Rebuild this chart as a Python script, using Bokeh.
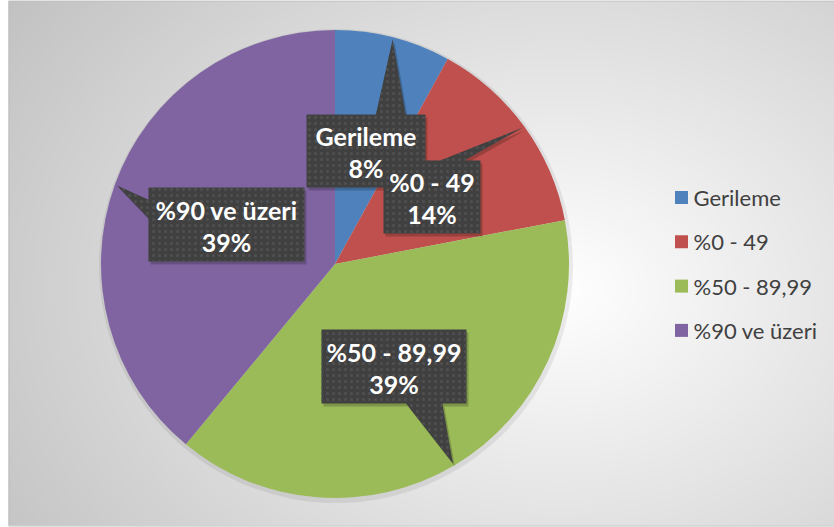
import numpy as np
from bokeh.plotting import figure
from bokeh.models import Range1d
from bokeh.embed import file_html
from bokeh.resources import INLINE
from bokeh.core.properties import value

# ---- data ----
categories = ["Gerileme", "%0 - 49", "%50 - 89,99", "%90 ve üzeri"]
values = [8, 14, 39, 39]
pct_labels = ["8%", "14%", "39%", "39%"]
colors = ["#4F81BD", "#C0504D", "#9BBB59", "#8064A2"]

# ---- layout (pixel space, y down) ----
W, H = 834, 527
cx, cy, R = 334.5, 263.5, 234.0
box_left = [306, 383, 321, 148]
box_top = [114, 160, 329, 187]
box_w = [119, 97, 145, 156]
box_h = [73, 73, 74, 74]
legend_x, legend_y0, legend_dy = 681, 197, 44.3


def Y(y):
    return H - y


p = figure(width=W, height=H, x_range=Range1d(0, W), y_range=Range1d(0, H),
           output_backend="svg", toolbar_location=None, min_border=0)
p.axis.visible = False
p.grid.visible = False
p.outline_line_color = None
p.background_fill_color = "white"
p.border_fill_color = "white"

# ---- gradient background ----
gx0, gy0, gw, gh = 8, 0, 826, 525
xs = np.arange(gw) + gx0 + 0.5
ys = np.arange(gh) + gy0 + 0.5
Xg, Yg = np.meshgrid(xs, ys)
d = np.sqrt(((Xg - 560) / 660) ** 2 + ((Yg - 290) / 500) ** 2)
g = np.clip(255 - 60 * d, 0, 255).astype(np.uint8)
img = np.empty((gh, gw), dtype=np.uint32)
view = img.view(dtype=np.uint8).reshape((gh, gw, 4))
view[..., 0] = g
view[..., 1] = g
view[..., 2] = g
view[..., 3] = 255
img = np.ascontiguousarray(img[::-1])
p.image_rgba(image=[img], x=gx0, y=Y(gy0 + gh), dw=gw, dh=gh)
p.quad(left=gx0 + 0.5, right=W + 2, top=Y(0.5), bottom=Y(gh + 0.5),
       fill_color=None, line_color="#bdbdbd", line_width=1)

# ---- pie ----
fr = np.array(values, dtype=float) / sum(values)
cum = np.concatenate([[0.0], np.cumsum(fr)])
start = np.pi / 2 - 2 * np.pi * cum[:-1]
end = np.pi / 2 - 2 * np.pi * cum[1:]
p.circle(x=[cx + 1], y=[Y(cy + 2)], radius=R + 3, fill_color="black",
         fill_alpha=0.07, line_color=None)
p.wedge(x=cx, y=Y(cy), radius=R, start_angle=start, end_angle=end,
        direction="clock", fill_color=colors, line_color=None)


# ---- callouts ----
def callout(l, t, w, h, tx, ty):
    hc, vc = l + w / 2, t + h / 2
    dx, dy = tx - hc, ty - vc
    r, b = l + w, t + h
    if abs(dx) * h > abs(dy) * w:
        y1 = t + h * (7 if dy > 0 else 2) / 12
        y2 = t + h * (10 if dy > 0 else 5) / 12
        if dx > 0:
            pts = [(l, t), (r, t), (r, y1), (tx, ty), (r, y2), (r, b), (l, b)]
        else:
            pts = [(l, t), (r, t), (r, b), (l, b), (l, y2), (tx, ty), (l, y1)]
    else:
        x1 = l + w * (7 if dx > 0 else 2) / 12
        x2 = l + w * (10 if dx > 0 else 5) / 12
        if dy < 0:
            pts = [(l, t), (x1, t), (tx, ty), (x2, t), (r, t), (r, b), (l, b)]
        else:
            pts = [(l, t), (r, t), (r, b), (x2, b), (tx, ty), (x1, b), (l, b)]
    return [q[0] for q in pts], [q[1] for q in pts]


rt = R * 0.99
for i in range(len(values)):
    th = 2 * np.pi * (cum[i] + fr[i] / 2)
    tx = cx + rt * np.sin(th)
    ty = cy - rt * np.cos(th)
    px, py = callout(box_left[i], box_top[i], box_w[i], box_h[i], tx, ty)
    p.patch(x=[v + 2 for v in px], y=[Y(v + 3) for v in py],
            fill_color="black", fill_alpha=0.2, line_color=None)
    p.patch(x=px, y=[Y(v) for v in py], fill_color="#404040",
            hatch_pattern="dot", hatch_color="#505050", hatch_scale=6,
            hatch_weight=1, line_color=None)
    tcx = box_left[i] + box_w[i] / 2
    tcy = box_top[i] + box_h[i] / 2
    p.text(x=[tcx, tcx], y=[Y(tcy - 15), Y(tcy + 17)],
           text=[categories[i], pct_labels[i]],
           text_font=value("Lato"), text_font_style="bold",
           text_font_size="25px", text_color="white",
           text_align="center", text_baseline="middle")

# ---- legend ----
ly = [legend_y0 + k * legend_dy for k in range(len(categories))]
p.rect(x=[legend_x] * len(categories), y=[Y(v) for v in ly], width=13, height=13,
       fill_color=colors, line_color=None)
p.text(x=[legend_x + 12] * len(categories), y=[Y(v) for v in ly], text=categories,
       text_font=value("Lato"), text_font_size="22px", text_color="#404040",
       text_align="left", text_baseline="middle")

open("out.html", "w").write(file_html(p, INLINE))
